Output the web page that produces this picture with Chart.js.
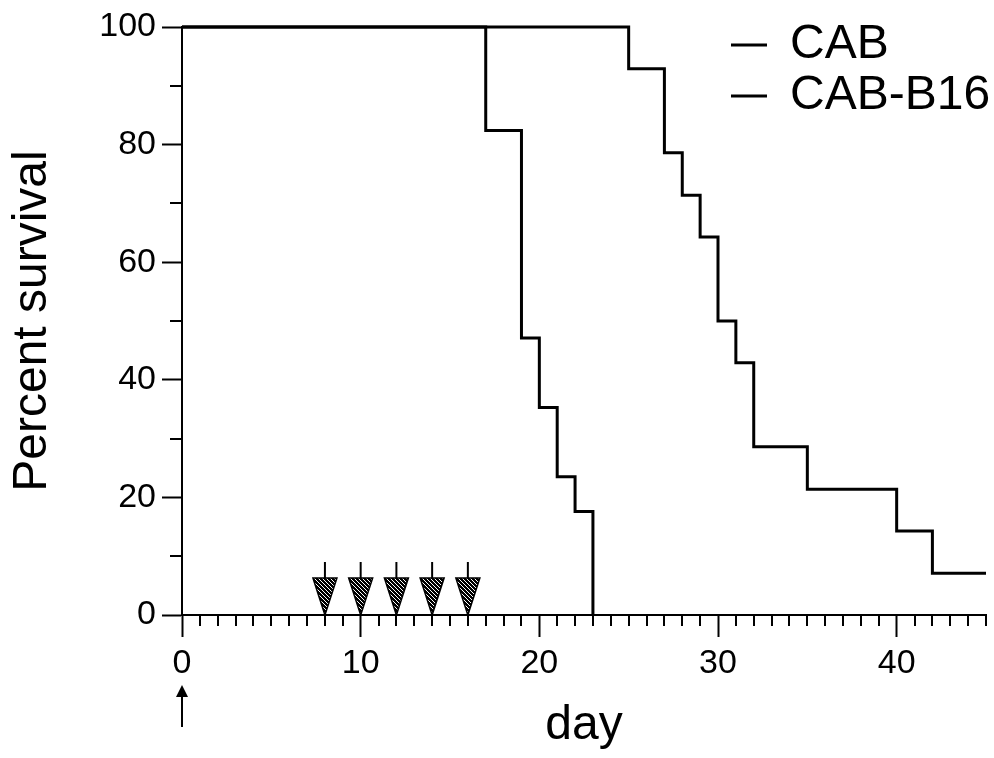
<!DOCTYPE html>
<html>
<head>
<meta charset="utf-8">
<script src="https://cdn.jsdelivr.net/npm/chart.js@4/dist/chart.umd.min.js"></script>
<style>
    html, body { margin: 0; padding: 0; background: #fff; }
    #wrap { width: 994px; height: 758px; }
</style>
</head>
<body>
<div id="wrap"><canvas id="survivalChart" width="994" height="758"></canvas></div>
<script>
// 生存曲线数据 (Kaplan-Meier)
const cabDays = [0, 17, 19, 20, 21, 22, 23];
const cabSurvival = [100, 82.4, 47.1, 35.3, 23.5, 17.6, 0];
const b16Days = [0, 25, 27, 28, 29, 30, 31, 32, 35, 40, 42, 45];
const b16Survival = [100, 92.9, 78.6, 71.4, 64.3, 50, 42.9, 28.6, 21.4, 14.3, 7.1, 7.1];
const seriesLabels = ['CAB', 'CAB-B16'];

// 给药日 (向下箭头) 和 接种日 (向上箭头)
const doseDays = [8, 10, 12, 14, 16];
const inoculationDays = [0];

// 坐标轴刻度
const xTicks = [0, 10, 20, 30, 40];
const yTicks = [0, 20, 40, 60, 80, 100];

const FONT = "'Liberation Sans', Arial, sans-serif";

const toPoints = (xs, ys) => xs.map((d, i) => ({ x: d, y: ys[i] }));

// 斜纹填充 (箭头用)
function hatchPattern(ctx) {
    const c = document.createElement('canvas');
    c.width = 4; c.height = 4;
    const g = c.getContext('2d');
    g.fillStyle = '#fff';
    g.fillRect(0, 0, 4, 4);
    g.fillStyle = '#000';
    for (let i = 0; i < 4; i++) {
        for (let j = 0; j < 4; j++) {
            if ((i - j + 4) % 4 !== 0) g.fillRect(i, j, 1, 1);
        }
    }
    return ctx.createPattern(c, 'repeat');
}

// 次刻度、箭头、图例
const decorations = {
    id: 'decorations',
    afterDraw(chart) {
        const { ctx, chartArea, scales: { x, y } } = chart;
        const base = y.getPixelForValue(0);
        ctx.save();
        ctx.strokeStyle = '#000';
        ctx.lineWidth = 2;

        // 次刻度
        ctx.beginPath();
        for (let d = 0; d <= x.max; d++) {
            if (xTicks.includes(d)) continue;
            const px = Math.round(x.getPixelForValue(d));
            ctx.moveTo(px, chartArea.bottom);
            ctx.lineTo(px, chartArea.bottom + 11);
        }
        for (let v = 10; v < 100; v += 20) {
            const py = Math.round(y.getPixelForValue(v));
            ctx.moveTo(chartArea.left, py);
            ctx.lineTo(chartArea.left - 12, py);
        }
        ctx.stroke();

        // 给药箭头
        const fill = hatchPattern(ctx);
        doseDays.forEach(d => {
            const px = x.getPixelForValue(d);
            ctx.lineWidth = 2;
            ctx.beginPath();
            ctx.moveTo(px, base - 53);
            ctx.lineTo(px, base - 37);
            ctx.stroke();
            ctx.beginPath();
            ctx.moveTo(px - 12, base - 37);
            ctx.lineTo(px + 12, base - 37);
            ctx.lineTo(px, base);
            ctx.closePath();
            ctx.fillStyle = fill;
            ctx.fill();
            ctx.lineWidth = 1.5;
            ctx.stroke();
        });

        // 接种箭头
        inoculationDays.forEach(d => {
            const px = x.getPixelForValue(d);
            ctx.lineWidth = 2;
            ctx.beginPath();
            ctx.moveTo(px, base + 112);
            ctx.lineTo(px, base + 78);
            ctx.stroke();
            ctx.beginPath();
            ctx.moveTo(px - 6, base + 82);
            ctx.lineTo(px, base + 70);
            ctx.lineTo(px + 6, base + 82);
            ctx.closePath();
            ctx.fillStyle = '#000';
            ctx.fill();
        });

        // 图例
        const rows = [45, 96];
        ctx.font = '48px ' + FONT;
        ctx.textAlign = 'left';
        ctx.textBaseline = 'middle';
        chart.data.datasets.forEach((ds, i) => {
            ctx.strokeStyle = ds.borderColor;
            ctx.lineWidth = 3;
            ctx.beginPath();
            ctx.moveTo(731, rows[i]);
            ctx.lineTo(767, rows[i]);
            ctx.stroke();
            ctx.fillStyle = '#000';
            ctx.fillText(ds.label, 790, rows[i]);
        });
        ctx.restore();
    }
};

new Chart(document.getElementById('survivalChart'), {
    type: 'line',
    data: {
        datasets: [
            {
                label: seriesLabels[0],
                data: toPoints(cabDays, cabSurvival),
                borderColor: '#000',
                borderWidth: 3,
                stepped: 'before',
                pointRadius: 0,
                fill: false,
                clip: false
            },
            {
                label: seriesLabels[1],
                data: toPoints(b16Days, b16Survival),
                borderColor: '#000',
                borderWidth: 3,
                stepped: 'before',
                pointRadius: 0,
                fill: false,
                clip: false
            }
        ]
    },
    options: {
        responsive: false,
        devicePixelRatio: 1,
        animation: false,
        layout: { padding: { top: 27, right: 8, left: 0, bottom: 0 } },
        plugins: {
            legend: { display: false },
            tooltip: { enabled: false }
        },
        scales: {
            x: {
                type: 'linear',
                min: 0,
                max: 45,
                afterFit: s => { s.height = 143; },
                afterBuildTicks: s => { s.ticks = xTicks.map(v => ({ value: v })); },
                grid: { drawOnChartArea: false, drawTicks: true, tickLength: 22, tickColor: '#000', tickWidth: 2 },
                border: { display: true, color: '#000', width: 2 },
                ticks: { color: '#000', font: { family: FONT, size: 34 }, padding: 6, maxRotation: 0, autoSkip: false },
                title: { display: true, text: 'day', color: '#000', font: { family: FONT, size: 48 }, padding: { top: 0, bottom: 3 } }
            },
            y: {
                type: 'linear',
                min: 0,
                max: 100,
                afterFit: s => { s.width = 182; },
                afterBuildTicks: s => { s.ticks = yTicks.map(v => ({ value: v })); },
                grid: { drawOnChartArea: false, drawTicks: true, tickLength: 20, tickColor: '#000', tickWidth: 2 },
                border: { display: true, color: '#000', width: 2 },
                ticks: { color: '#000', font: { family: FONT, size: 34 }, padding: 6 },
                title: { display: true, text: 'Percent survival', color: '#000', font: { family: FONT, size: 48 }, padding: { top: 4, bottom: 0 } }
            }
        }
    },
    plugins: [decorations]
});
</script>
</body>
</html>
